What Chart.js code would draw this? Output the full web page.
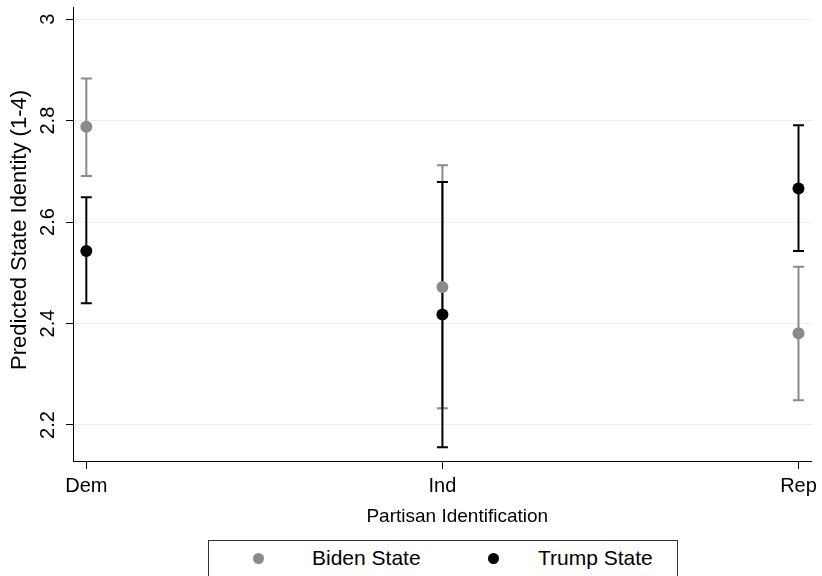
<!DOCTYPE html>
<html>
<head>
<meta charset="utf-8">
<script src="https://cdn.jsdelivr.net/npm/chart.js@4.4.1/dist/chart.umd.min.js"></script>
<style>
  html, body { margin: 0; padding: 0; background: #ffffff; }
  #wrap { position: relative; width: 822px; height: 576px; overflow: hidden; }
  #c { position: absolute; left: 0; top: 0; }
  #legend {
    position: absolute; left: 208px; top: 540px; width: 470px; height: 50px;
    border: 1px solid #333; box-sizing: border-box; background: #fff;
    font-family: "Liberation Sans", Arial, sans-serif; font-size: 21px; color: #000;
  }
  #legend .item { position: absolute; top: 5px; line-height: 24px; }
  #legend .dot { position: absolute; width: 11px; height: 11px; border-radius: 50%; top: 12px; }
</style>
</head>
<body>
<div id="wrap">
  <canvas id="c" width="822" height="576"></canvas>
  <div id="legend">
    <span class="dot" style="left:44px;background:#8a8a8a"></span>
    <span class="item" style="left:103px">Biden State</span>
    <span class="dot" style="left:279px;background:#000"></span>
    <span class="item" style="left:329px">Trump State</span>
  </div>
</div>
<script>
// ---- data ----
const categories = ['Dem', 'Ind', 'Rep'];
const yTickValues = [2.2, 2.4, 2.6, 2.8, 3.0];
const yTickLabels = ['2.2', '2.4', '2.6', '2.8', '3'];
const seriesNames = ['Biden State', 'Trump State'];
const bidenEst = [2.788, 2.472, 2.381];
const bidenLo  = [2.691, 2.233, 2.249];
const bidenHi  = [2.883, 2.712, 2.512];
const trumpEst = [2.543, 2.418, 2.666];
const trumpLo  = [2.440, 2.156, 2.543];
const trumpHi  = [2.649, 2.679, 2.791];
const xTitle = 'Partisan Identification';
const yTitle = 'Predicted State Identity (1-4)';

const GRAY = '#8a8a8a';
const FONT = '"Liberation Sans", Arial, sans-serif';

function pts(est, lo, hi) {
  return est.map((v, i) => ({ x: i, y: v, lo: lo[i], hi: hi[i] }));
}

const errorBars = {
  id: 'errorBars',
  beforeDatasetsDraw(chart) {
    const ctx = chart.ctx;
    const xs = chart.scales.x, ys = chart.scales.y;
    // Biden bars first, Trump bars drawn over them
    [0, 1].forEach(di => {
      const ds = chart.data.datasets[di];
      ctx.save();
      ctx.strokeStyle = ds.borderColor;
      ctx.lineWidth = 2;
      ds.data.forEach(p => {
        const x = xs.getPixelForValue(p.x);
        const y1 = ys.getPixelForValue(p.lo);
        const y2 = ys.getPixelForValue(p.hi);
        ctx.beginPath();
        ctx.moveTo(x, y1); ctx.lineTo(x, y2);
        ctx.moveTo(x - 5.5, y1); ctx.lineTo(x + 5.5, y1);
        ctx.moveTo(x - 5.5, y2); ctx.lineTo(x + 5.5, y2);
        ctx.stroke();
      });
      ctx.restore();
    });
  },
  afterDraw(chart) {
    const ctx = chart.ctx;
    const ys = chart.scales.y, xs = chart.scales.x;
    ctx.save();
    ctx.fillStyle = '#000';
    ctx.font = '20px ' + FONT;
    ctx.textAlign = 'center';
    ctx.textBaseline = 'alphabetic';
    yTickValues.forEach((v, i) => {
      const y = ys.getPixelForValue(v);
      ctx.save();
      ctx.translate(54, y);
      ctx.rotate(-Math.PI / 2);
      ctx.fillText(yTickLabels[i], 0, 0);
      ctx.restore();
    });
    // y title
    ctx.save();
    ctx.font = '22px ' + FONT;
    ctx.translate(26, (ys.top + ys.bottom) / 2 - 4);
    ctx.rotate(-Math.PI / 2);
    ctx.fillText(yTitle, 0, 0);
    ctx.restore();
    // x title
    ctx.font = '19px ' + FONT;
    ctx.fillText(xTitle, (xs.left + xs.right) / 2 + 15, 522);
    ctx.restore();
  }
};

new Chart(document.getElementById('c'), {
  type: 'scatter',
  data: {
    datasets: [
      { label: seriesNames[0], data: pts(bidenEst, bidenLo, bidenHi),
        backgroundColor: GRAY, borderColor: GRAY, pointRadius: 6, pointBorderWidth: 0, pointHoverRadius: 6, order: 1 },
      { label: seriesNames[1], data: pts(trumpEst, trumpLo, trumpHi),
        backgroundColor: '#000', borderColor: '#000', pointRadius: 6, pointBorderWidth: 0, pointHoverRadius: 6, order: 2 }
    ]
  },
  options: {
    responsive: false,
    animation: false,
    events: [],
    layout: { padding: { top: 7, right: 9, left: 0, bottom: 0 } },
    plugins: { legend: { display: false }, tooltip: { enabled: false } },
    scales: {
      x: {
        type: 'linear', min: -0.0374, max: 2.0365,
        afterBuildTicks(s) { s.ticks = categories.map((c, i) => ({ value: i })); },
        afterFit(s) { s.height = 115; },
        ticks: {
          callback: v => categories[v] ?? '',
          color: '#000', font: { family: FONT, size: 20 }, padding: 5, maxRotation: 0, autoSkip: false
        },
        grid: { drawOnChartArea: false, drawTicks: true, tickLength: 8, tickColor: '#000', tickWidth: 1 },
        border: { display: true, color: '#000', width: 1 }
      },
      y: {
        type: 'linear', min: 2.129, max: 3.024,
        afterBuildTicks(s) { s.ticks = yTickValues.map(v => ({ value: v })); },
        afterFit(s) { s.width = 73; },
        ticks: { display: false },
        grid: { color: '#e6eef0', lineWidth: 1, drawTicks: true, tickLength: 7, tickColor: '#000', tickWidth: 1 },
        border: { display: true, color: '#000', width: 1 }
      }
    }
  },
  plugins: [errorBars]
});
</script>
</body>
</html>
